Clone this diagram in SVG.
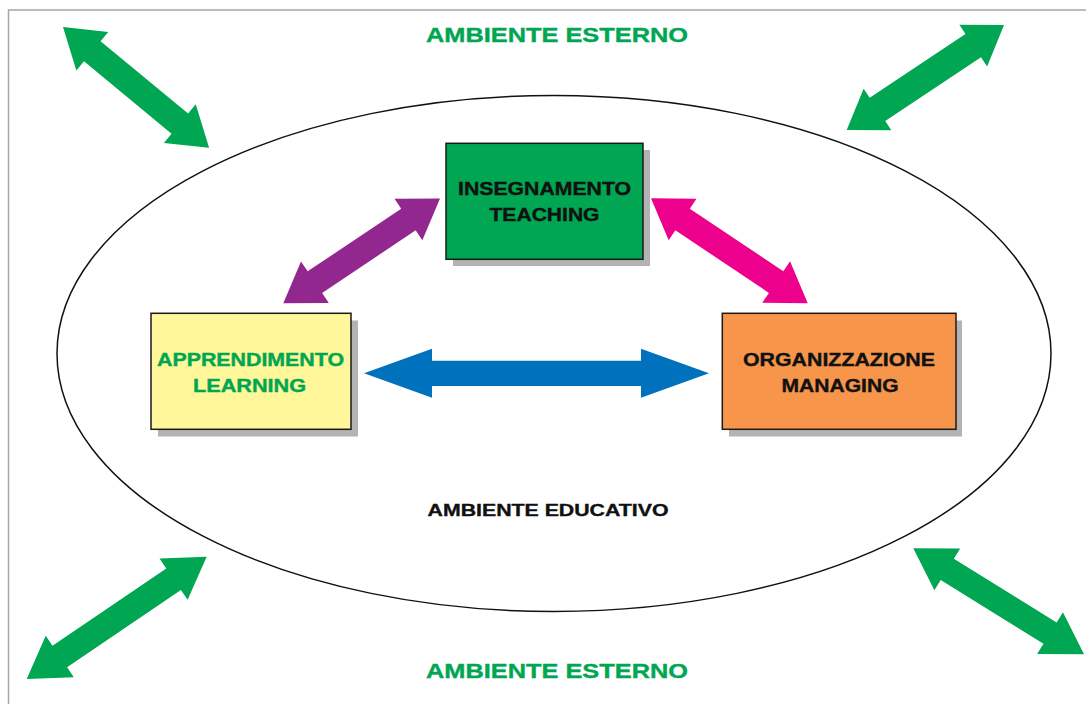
<svg xmlns="http://www.w3.org/2000/svg" width="1086" height="704" viewBox="0 0 1086 704">
<style>
.t{font-family:"Liberation Sans",Arial,sans-serif;font-weight:bold;text-anchor:middle;stroke-width:0.45px}
.env{fill:#00A651;stroke:#00A651;font-size:24.6px}
.box{stroke:#1a1a1a;stroke-width:1.5}
.sh{fill:#b3b3b3}
.lbl{font-size:21.3px;fill:#111;stroke:#111}
.lbl.gl{fill:#00A651;stroke:#00A651}
.grn{fill:#00A651}
.prp{fill:#92278F}
.pnk{fill:#EC008C}
.blu{fill:#0071BC}
</style>
<rect x="8.5" y="10" width="1100" height="720" fill="#fff" stroke="#a6a6a6" stroke-width="1.5"/>
<g id="ambiente-educativo">
<ellipse cx="554" cy="353.5" rx="497" ry="258" fill="none" stroke="#111" stroke-width="1.5"/>
<text class="t" transform="translate(548,516) scale(1,0.8)" font-size="21.2" fill="#111" stroke="#111" textLength="241" lengthAdjust="spacingAndGlyphs">AMBIENTE EDUCATIVO</text>
</g>
<g id="ambiente-esterno-top"><text class="t env" transform="translate(557,42) scale(1,0.8)" textLength="262" lengthAdjust="spacingAndGlyphs">AMBIENTE ESTERNO</text></g>
<g id="ambiente-esterno-bottom"><text class="t env" transform="translate(557,677.5) scale(1,0.8)" textLength="262" lengthAdjust="spacingAndGlyphs">AMBIENTE ESTERNO</text></g>
<g id="connectors">
<polygon class="grn" transform="translate(63,27) rotate(39.6)" points="0,0 38,-25 38,-13 151.6,-13 151.6,-25 189.6,0 151.6,25 151.6,13 38,13 38,25"/>
<polygon class="grn" transform="translate(846.7,130) rotate(-33.7)" points="0,0 37,-25 37,-14 152.1,-14 152.1,-25 189.1,0 152.1,25 152.1,14 37,14 37,25"/>
<polygon class="grn" transform="translate(26.7,679) rotate(-34.2)" points="0,0 40,-25 40,-13 177.6,-13 177.6,-25 217.6,0 177.6,25 177.6,13 40,13 40,25"/>
<polygon class="grn" transform="translate(913.3,548.3) rotate(31.8)" points="0,0 40,-24.5 40,-12.5 160.9,-12.5 160.9,-24.5 200.9,0 160.9,24.5 160.9,12.5 40,12.5 40,24.5"/>
<polygon class="prp" transform="translate(283.3,303.3) rotate(-33.8)" points="0,0 38,-25 38,-13 150.6,-13 150.6,-25 188.6,0 150.6,25 150.6,13 38,13 38,25"/>
<polygon class="pnk" transform="translate(651,198.3) rotate(33.8)" points="0,0 38,-25 38,-13 150.6,-13 150.6,-25 188.6,0 150.6,25 150.6,13 38,13 38,25"/>
<polygon class="blu" transform="translate(364,373.3)" points="0,0 68,-24.5 68,-12.6 277,-12.6 277,-24.5 345,0 277,24.5 277,12.6 68,12.6 68,24.5"/>
</g>
<g id="insegnamento">
<rect class="sh" x="453" y="150" width="197" height="116"/>
<rect class="box" x="446" y="143.3" width="197" height="116" fill="#00A651"/>
<text class="t lbl" transform="translate(544.5,195) scale(1,0.875)" textLength="173" lengthAdjust="spacingAndGlyphs">INSEGNAMENTO</text>
<text class="t lbl" transform="translate(544.5,220.7) scale(1,0.875)" textLength="110" lengthAdjust="spacingAndGlyphs">TEACHING</text>
</g>
<g id="apprendimento">
<rect class="sh" x="158" y="320.5" width="200" height="116"/>
<rect class="box" x="151" y="313.3" width="200" height="116" fill="#FFF799"/>
<text class="t lbl gl" transform="translate(250.5,366) scale(1,0.875)" textLength="187" lengthAdjust="spacingAndGlyphs">APPRENDIMENTO</text>
<text class="t lbl gl" transform="translate(249.5,391.7) scale(1,0.875)" textLength="113" lengthAdjust="spacingAndGlyphs">LEARNING</text>
</g>
<g id="organizzazione">
<rect class="sh" x="729" y="320.5" width="233" height="116"/>
<rect class="box" x="722.3" y="313.3" width="233.7" height="116" fill="#F7964A"/>
<text class="t lbl" transform="translate(839,366) scale(1,0.875)" textLength="192" lengthAdjust="spacingAndGlyphs">ORGANIZZAZIONE</text>
<text class="t lbl" transform="translate(840,391.7) scale(1,0.875)" textLength="117" lengthAdjust="spacingAndGlyphs">MANAGING</text>
</g>
</svg>
